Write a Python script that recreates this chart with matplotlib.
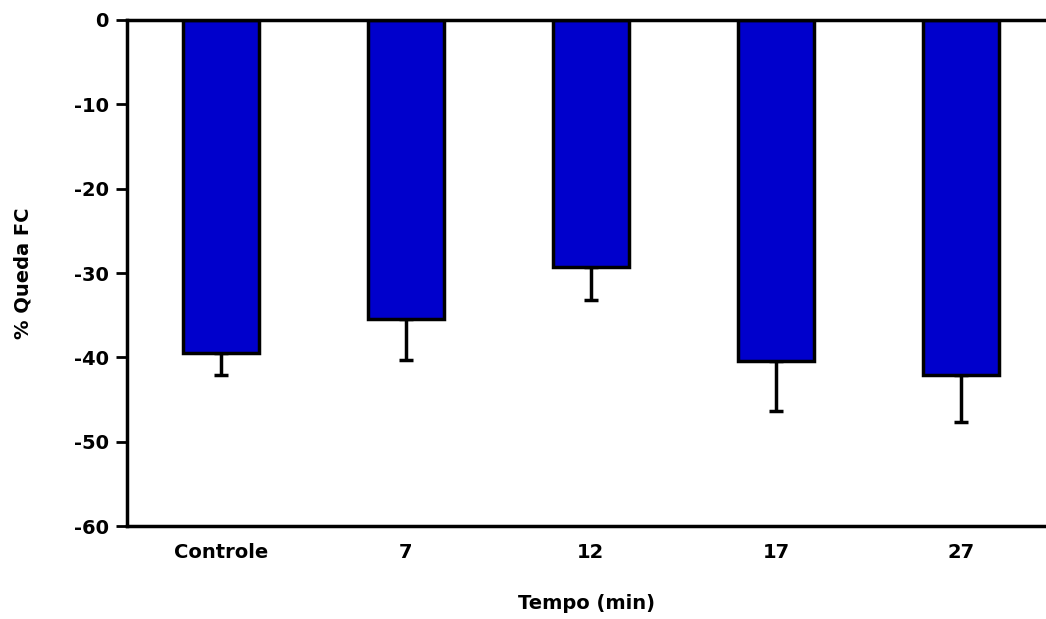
import matplotlib.pyplot as plt
import numpy as np

plt.rcParams['font.family'] = ['DejaVu Sans']
plt.rcParams['font.weight'] = 'bold'
plt.rcParams['axes.unicode_minus'] = False

# Data
groups = ['Controle', '7', '12', '17', '27']
queda_fc = [-39.5, -35.5, -29.3, -40.4, -42.1]
erro = [2.6, 4.8, 3.9, 6.0, 5.6]

fig = plt.figure(figsize=(10.46, 6.19), dpi=100)
ax = fig.add_axes([0.1214, 0.150, 0.8786, 0.8177])

x = np.arange(len(groups))
ax.bar(x, queda_fc, width=0.41, color='#0000CC', edgecolor='black', linewidth=2.5, zorder=2)
ax.errorbar(x, queda_fc, yerr=[erro, [0]*len(erro)], fmt='none', ecolor='black',
            elinewidth=2.5, capsize=5, capthick=2.5, zorder=1)

ax.set_xlim(-0.508, 4.46)
ax.set_ylim(-60, 0)
ax.set_yticks(np.arange(-60, 1, 10))
ax.set_xticks(x)
ax.set_xticklabels(groups)
ax.tick_params(axis='x', length=0, pad=12, labelsize=14)
ax.tick_params(axis='y', length=8, width=2, direction='out', pad=5, labelsize=14)
ax.spines['right'].set_visible(False)
for s in ['left', 'top', 'bottom']:
    ax.spines[s].set_linewidth(2.5)

ax.set_xlabel('Tempo (min)', fontsize=14, fontweight='bold', labelpad=23)
ax.set_ylabel('% Queda FC', fontsize=14, fontweight='bold', labelpad=30)

fig.savefig('out.png', dpi=100)
